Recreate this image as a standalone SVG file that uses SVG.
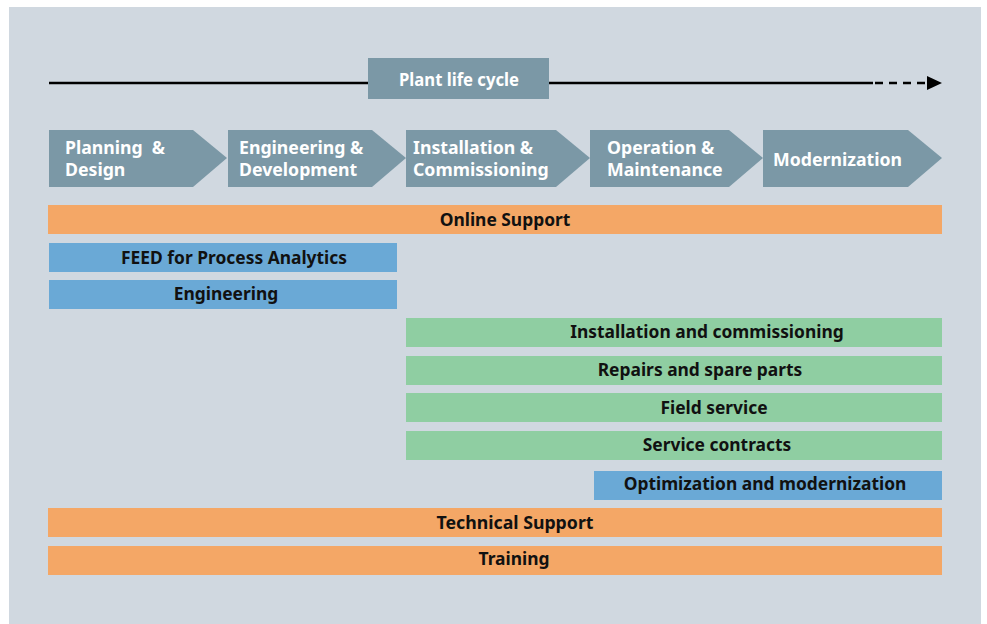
<svg xmlns="http://www.w3.org/2000/svg" width="987" height="624" viewBox="0 0 987 624">
<style>
.bg{fill:#D0D8E0}
.chev{fill:#7B98A6}
.hdr{fill:#7B98A6}
.org{fill:#F4A766}
.blu{fill:#6AA9D6}
.grn{fill:#8FCEA2}
.wt{font-family:"Noto Sans","Open Sans",sans-serif;font-weight:700;font-size:17.7px;fill:#FFFFFF}
.bt{font-family:"Noto Sans","Open Sans",sans-serif;font-weight:700;font-size:17.4px;fill:#111111;text-anchor:middle}
</style>
<rect x="0" y="0" width="987" height="624" fill="#FFFFFF"/>
<rect class="bg" x="9" y="7" width="972" height="617"/>
<g id="connectors">
<line x1="49" y1="83" x2="873" y2="83" stroke="#000" stroke-width="2.5"/>
<line x1="875" y1="83" x2="928" y2="83" stroke="#000" stroke-width="2.5" stroke-dasharray="8,6"/>
<polygon points="927,76 942,83 927,90" fill="#000"/>
</g>
<g id="plant-life-cycle">
<rect class="hdr" x="368" y="58" width="181" height="41"/>
<text class="wt" x="399" y="86" textLength="120" lengthAdjust="spacingAndGlyphs">Plant life cycle</text>
</g>
<g id="phase-planning">
<polygon class="chev" points="49,130 193,130 227,158 193,187 49,187"/>
<text class="wt" x="65" y="154" textLength="100" lengthAdjust="spacingAndGlyphs" xml:space="preserve">Planning  &amp;</text>
<text class="wt" x="65" y="176">Design</text>
</g>
<g id="phase-engineering">
<polygon class="chev" points="228,130 372,130 406,158 372,187 228,187"/>
<text class="wt" x="239" y="154">Engineering &amp;</text>
<text class="wt" x="239" y="176">Development</text>
</g>
<g id="phase-installation">
<polygon class="chev" points="406,130 556,130 590,158 556,187 406,187"/>
<text class="wt" x="413" y="154">Installation &amp;</text>
<text class="wt" x="413" y="176">Commissioning</text>
</g>
<g id="phase-operation">
<polygon class="chev" points="590,130 729,130 763,158 729,187 590,187"/>
<text class="wt" x="607" y="154">Operation &amp;</text>
<text class="wt" x="607" y="176">Maintenance</text>
</g>
<g id="phase-modernization">
<polygon class="chev" points="763,130 908,130 942,158 908,187 763,187"/>
<text class="wt" x="773" y="166">Modernization</text>
</g>
<g id="online-support">
<rect class="org" x="48" y="205" width="894" height="29"/>
<text class="bt" x="505" y="226">Online Support</text>
</g>
<g id="feed">
<rect class="blu" x="49" y="243" width="348" height="29"/>
<text class="bt" x="234" y="264">FEED for Process Analytics</text>
</g>
<g id="engineering">
<rect class="blu" x="49" y="280" width="348" height="29"/>
<text class="bt" x="226" y="300">Engineering</text>
</g>
<g id="installation-commissioning">
<rect class="grn" x="406" y="318" width="536" height="29"/>
<text class="bt" x="707" y="338">Installation and commissioning</text>
</g>
<g id="repairs">
<rect class="grn" x="406" y="356" width="536" height="29"/>
<text class="bt" x="700" y="376">Repairs and spare parts</text>
</g>
<g id="field-service">
<rect class="grn" x="406" y="393" width="536" height="29"/>
<text class="bt" x="714" y="414">Field service</text>
</g>
<g id="service-contracts">
<rect class="grn" x="406" y="431" width="536" height="29"/>
<text class="bt" x="717" y="451">Service contracts</text>
</g>
<g id="optimization">
<rect class="blu" x="594" y="471" width="348" height="29"/>
<text class="bt" x="765" y="490">Optimization and modernization</text>
</g>
<g id="technical-support">
<rect class="org" x="48" y="508" width="894" height="29"/>
<text class="bt" x="515" y="529" textLength="157" lengthAdjust="spacingAndGlyphs">Technical Support</text>
</g>
<g id="training">
<rect class="org" x="48" y="546" width="894" height="29"/>
<text class="bt" x="514" y="565" textLength="71" lengthAdjust="spacingAndGlyphs">Training</text>
</g>
</svg>
